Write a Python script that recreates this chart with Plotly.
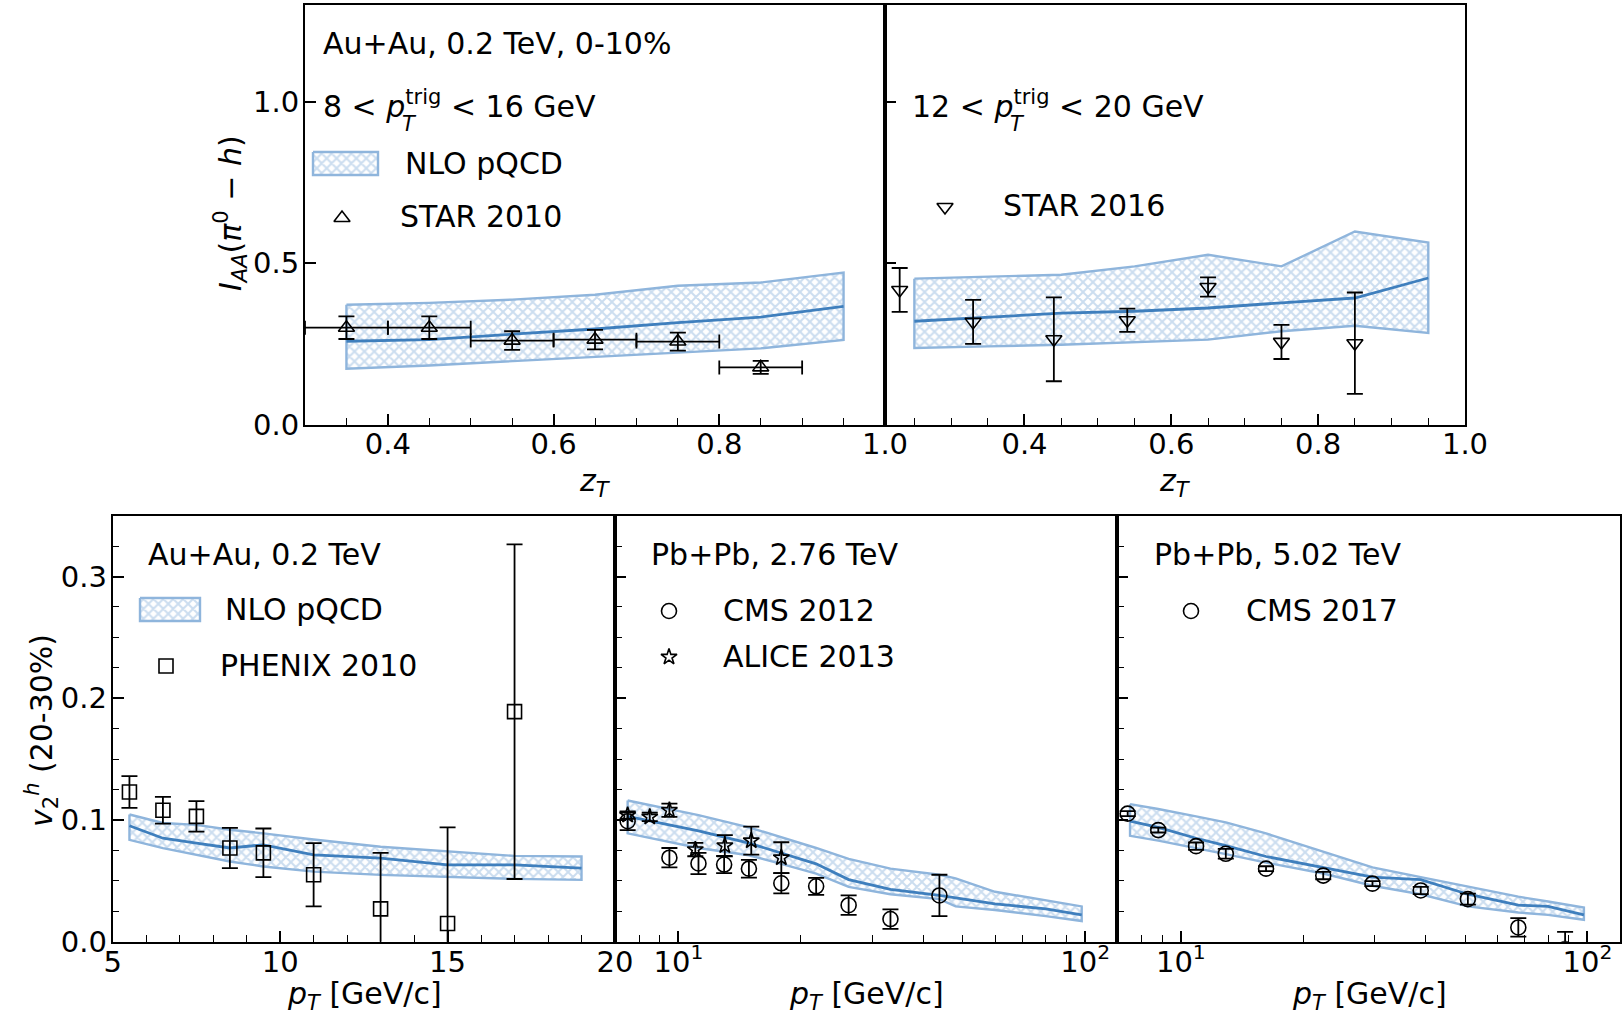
import plotly.graph_objects as go

W, H = 1623, 1016

# ---------------- data ----------------
# top-left: Au+Au 0.2 TeV 0-10%, 8<pT^trig<16 GeV
star10_z = [0.35, 0.45, 0.55, 0.65, 0.75, 0.85]
star10_iaa = [0.300, 0.300, 0.260, 0.263, 0.257, 0.177]
star10_yerr = [0.035, 0.035, 0.029, 0.030, 0.028, 0.020]
star10_xerr = [0.05, 0.05, 0.05, 0.05, 0.05, 0.05]

nlo_a_z = [0.35, 0.45, 0.55, 0.65, 0.75, 0.85, 0.95]
nlo_a_hi = [0.371, 0.377, 0.387, 0.402, 0.430, 0.440, 0.471]
nlo_a_mid = [0.258, 0.263, 0.280, 0.296, 0.316, 0.333, 0.366]
nlo_a_lo = [0.173, 0.183, 0.195, 0.210, 0.223, 0.236, 0.262]

# top-right: 12<pT^trig<20 GeV
star16_z = [0.23, 0.33, 0.44, 0.54, 0.65, 0.75, 0.85]
star16_iaa = [0.417, 0.318, 0.264, 0.323, 0.426, 0.256, 0.252]
star16_err = [0.068, 0.068, 0.130, 0.036, 0.030, 0.053, 0.157]

nlo_b_z = [0.25, 0.35, 0.45, 0.55, 0.65, 0.75, 0.85, 0.95]
nlo_b_hi = [0.452, 0.458, 0.464, 0.490, 0.526, 0.490, 0.598, 0.564]
nlo_b_mid = [0.320, 0.333, 0.345, 0.351, 0.361, 0.377, 0.392, 0.454]
nlo_b_lo = [0.237, 0.242, 0.247, 0.255, 0.263, 0.289, 0.306, 0.284]

# bottom-left: Au+Au 0.2 TeV
phenix_pt = [5.5, 6.5, 7.5, 8.5, 9.5, 11.0, 13.0, 15.0, 17.0]
phenix_v2 = [0.123, 0.108, 0.103, 0.077, 0.073, 0.055, 0.027, 0.015, 0.189]
phenix_err = [0.013, 0.011, 0.0125, 0.0165, 0.020, 0.026, 0.046, 0.079, 0.1375]

nlo_c_pt = [5.5, 6.5, 7.5, 8.5, 9.5, 11.0, 13.0, 15.0, 17.0, 19.0]
nlo_c_hi = [0.1045, 0.0975, 0.0960, 0.0920, 0.0890, 0.0840, 0.0780, 0.0740, 0.0705, 0.0700]
nlo_c_mid = [0.0953, 0.0850, 0.0810, 0.0770, 0.0796, 0.0714, 0.0686, 0.0631, 0.0631, 0.0604]
nlo_c_lo = [0.0837, 0.0769, 0.0714, 0.0659, 0.0618, 0.0576, 0.0549, 0.0535, 0.0516, 0.0508]

# bottom-middle: Pb+Pb 2.76 TeV
cms12_pt = [7.5, 9.5, 11.2, 12.95, 14.9, 17.9, 21.8, 26.2, 33.2, 43.8]
cms12_v2 = [0.099, 0.069, 0.0643, 0.0634, 0.060, 0.048, 0.0455, 0.030, 0.0186, 0.038]
cms12_err = [0.0073, 0.008, 0.0087, 0.007, 0.0073, 0.0083, 0.007, 0.008, 0.008, 0.017]

alice13_pt = [7.5, 8.5, 9.5, 11.0, 13.0, 15.1, 17.9]
alice13_v2 = [0.104, 0.1025, 0.108, 0.0757, 0.0789, 0.083, 0.069]
alice13_err = [0.003, 0.0035, 0.0055, 0.0055, 0.0087, 0.0115, 0.0127]

nlo_d_pt = [7.5, 9.5, 11.2, 14.9, 17.9, 21.8, 26.2, 33.2, 43.8, 48.0, 60.0, 80.0, 98.0]
nlo_d_hi = [0.116, 0.109, 0.104, 0.094, 0.086, 0.077, 0.068, 0.060, 0.055, 0.052, 0.041, 0.034, 0.029]
nlo_d_mid = [0.103, 0.096, 0.091, 0.081, 0.073, 0.064, 0.051, 0.043, 0.038, 0.036, 0.031, 0.027, 0.022]
nlo_d_lo = [0.089, 0.082, 0.077, 0.071, 0.064, 0.056, 0.045, 0.039, 0.035, 0.029, 0.026, 0.021, 0.017]

# bottom-right: Pb+Pb 5.02 TeV
cms17_pt = [7.4, 8.8, 10.9, 12.9, 16.2, 22.4, 29.6, 38.9, 50.8, 67.6, 88.1]
cms17_v2 = [0.1052, 0.0917, 0.0785, 0.0722, 0.0600, 0.0543, 0.0477, 0.0421, 0.0350, 0.0117, -0.006]
cms17_err = [0.002, 0.002, 0.003, 0.004, 0.002, 0.003, 0.002, 0.003, 0.0045, 0.0076, 0.014]

nlo_e_pt = [7.5, 8.8, 10.9, 12.9, 16.2, 22.4, 29.6, 38.9, 50.8, 67.6, 80.0, 98.0]
nlo_e_hi = [0.113, 0.109, 0.103, 0.098, 0.089, 0.074, 0.061, 0.053, 0.045, 0.037, 0.033, 0.028]
nlo_e_mid = [0.099, 0.094, 0.085, 0.079, 0.070, 0.061, 0.053, 0.051, 0.039, 0.030, 0.029, 0.022]
nlo_e_lo = [0.087, 0.083, 0.077, 0.072, 0.065, 0.056, 0.046, 0.039, 0.029, 0.024, 0.022, 0.018]

# ---------------- styles ----------------
FONT = "DejaVu Sans"
TXT = 30
TICK = 29
HATCH = dict(shape="x", size=7, solidity=0.5, fgcolor="#98bbe0",
             bgcolor="rgba(255,255,255,0)", fillmode="overlay")
EDGE = "#8fb5dc"
MIDC = "#3f7fbd"

fig = go.Figure()


def band(x, lo, hi, xa, ya):
    xs = list(x) + list(x)[::-1] + [x[0]]
    ys = list(hi) + list(lo)[::-1] + [hi[0]]
    fig.add_trace(go.Scatter(x=xs, y=ys, xaxis=xa, yaxis=ya, mode="lines",
                             fill="toself", fillcolor="rgba(255,255,255,0)",
                             fillpattern=HATCH, line=dict(color=EDGE, width=2.4),
                             hoverinfo="skip"))


def midline(x, y, xa, ya):
    fig.add_trace(go.Scatter(x=x, y=y, xaxis=xa, yaxis=ya, mode="lines",
                             line=dict(color=MIDC, width=2.8)))


def points(x, y, err, sym, size, xa, ya, xerr=None):
    kw = {}
    if xerr is not None:
        kw["error_x"] = dict(type="data", array=xerr, color="black", thickness=1.8, width=7)
    fig.add_trace(go.Scatter(x=x, y=y, xaxis=xa, yaxis=ya, mode="markers",
                             marker=dict(symbol=sym, size=size, color="black",
                                         line=dict(color="black", width=1.6)),
                             error_y=dict(type="data", array=err, color="black",
                                          thickness=1.8, width=8),
                             cliponaxis=True, **kw))


band(nlo_a_z, nlo_a_lo, nlo_a_hi, "x", "y")
midline(nlo_a_z, nlo_a_mid, "x", "y")
points(star10_z, star10_iaa, star10_yerr, "triangle-up-open", 14, "x", "y", xerr=star10_xerr)

band(nlo_b_z, nlo_b_lo, nlo_b_hi, "x2", "y2")
midline(nlo_b_z, nlo_b_mid, "x2", "y2")
points(star16_z, star16_iaa, star16_err, "triangle-down-open", 14, "x2", "y2")

band(nlo_c_pt, nlo_c_lo, nlo_c_hi, "x3", "y3")
midline(nlo_c_pt, nlo_c_mid, "x3", "y3")
points(phenix_pt, phenix_v2, phenix_err, "square-open", 14, "x3", "y3")

band(nlo_d_pt, nlo_d_lo, nlo_d_hi, "x4", "y4")
midline(nlo_d_pt, nlo_d_mid, "x4", "y4")
points(cms12_pt, cms12_v2, cms12_err, "circle-open", 15, "x4", "y4")
points(alice13_pt, alice13_v2, alice13_err, "star-open", 12, "x4", "y4")

band(nlo_e_pt, nlo_e_lo, nlo_e_hi, "x5", "y5")
midline(nlo_e_pt, nlo_e_mid, "x5", "y5")
points(cms17_pt, cms17_v2, cms17_err, "circle-open", 15, "x5", "y5")

# ---------------- legends (overlay pixel axis) ----------------
def legend_patch(x0, x1, y0, y1):
    fig.add_trace(go.Scatter(x=[x0, x1, x1, x0, x0], y=[y0, y0, y1, y1, y0],
                             xaxis="x6", yaxis="y6", mode="lines", fill="toself",
                             fillcolor="rgba(255,255,255,0)", fillpattern=HATCH,
                             line=dict(color=EDGE, width=2.4), hoverinfo="skip"))


def legend_marker(x, y, sym, size):
    fig.add_trace(go.Scatter(x=[x], y=[y], xaxis="x6", yaxis="y6", mode="markers",
                             marker=dict(symbol=sym, size=size, color="black",
                                         line=dict(color="black", width=1.6)),
                             hoverinfo="skip"))


legend_patch(313, 378, 152, 175)
legend_marker(342, 218, "triangle-up-open", 14)
legend_marker(945, 207, "triangle-down-open", 14)
legend_patch(140, 200, 598, 621)
legend_marker(166, 666, "square-open", 14)
legend_marker(669, 611, "circle-open", 15)
legend_marker(669, 657, "star-open", 12)
legend_marker(1191, 611, "circle-open", 15)

annotations = []


def txt(x, y, s, size=TXT, xanchor="left", angle=0):
    annotations.append(dict(x=x / W, y=1 - y / H, xref="paper", yref="paper", text=s,
                            showarrow=False, xanchor=xanchor, yanchor="middle",
                            textangle=angle,
                            font=dict(family=FONT, size=size, color="black"),
                            borderpad=0))


txt(322, 43, "Au+Au, 0.2 TeV, 0-10%")
txt(322, 104, "8 < <i>p</i><sup>trig</sup> < 16 GeV")
txt(401, 124, "<i>T</i>", size=21)
txt(404, 164, "NLO pQCD")
txt(399, 216, "STAR 2010")

txt(911, 104, "12 < <i>p</i><sup>trig</sup> < 20 GeV")
txt(1009, 124, "<i>T</i>", size=21)
txt(1002, 206, "STAR 2016")

txt(147, 554, "Au+Au, 0.2 TeV")
txt(224, 609, "NLO pQCD")
txt(219, 665, "PHENIX 2010")

txt(650, 554, "Pb+Pb, 2.76 TeV")
txt(722, 610, "CMS 2012")
txt(722, 656, "ALICE 2013")

txt(1153, 554, "Pb+Pb, 5.02 TeV")
txt(1245, 610, "CMS 2017")

txt(595, 482, "<i>z</i><sub><i>T</i></sub>", xanchor="center")
txt(1175, 482, "<i>z</i><sub><i>T</i></sub>", xanchor="center")
for cx in (364, 866, 1369):
    txt(cx, 995, "<i>p</i><sub><i>T</i></sub> [GeV/c]", xanchor="center")
txt(231, 213, "<i>I</i><sub><i>AA</i></sub>(<i>π</i><sup>0</sup> − <i>h</i>)",
    xanchor="center", angle=-90)
txt(41, 731, "<i>v</i><sub>2</sub><sup><i>h</i></sup> (20-30%)", xanchor="center", angle=-90)

# ---------------- axes ----------------
def xd(a, b):
    return [a / W, b / W]


def yd(top, bot):
    return [1 - bot / H, 1 - top / H]


common = dict(showline=True, linecolor="black", linewidth=2, mirror=True,
              ticks="inside", ticklen=11, tickwidth=1.6, tickcolor="black",
              showgrid=False, zeroline=False, automargin=False,
              tickfont=dict(family=FONT, size=TICK, color="black"))
xcommon = dict(common, ticklabelstandoff=-7)
ycommon = dict(common, ticklabelstandoff=-2)


def minor_lin(d):
    return dict(ticks="inside", ticklen=6.5, tickwidth=1.4, tickcolor="black",
                tickmode="linear", tick0=0, dtick=d, showgrid=False)


log_minor = dict(ticks="inside", ticklen=6.5, tickwidth=1.4, tickcolor="black",
                 tickmode="array", tickvals=[8, 9, 20, 30, 40, 50, 60, 70, 80, 90],
                 showgrid=False)

TOP = (5, 424.5)
BOT = (515.7, 941.7)

hidden = dict(domain=[0, 1], visible=False, showticklabels=False, ticks="",
              showline=False, showgrid=False, zeroline=False, automargin=False,
              fixedrange=True)

fig.update_layout(
    width=W, height=H, autosize=False, margin=dict(l=0, r=0, t=0, b=0, pad=0, autoexpand=False),
    paper_bgcolor="white", plot_bgcolor="rgba(0,0,0,0)", showlegend=False,
    font=dict(family=FONT, size=TICK, color="black"),
    xaxis=dict(domain=xd(305, 885), range=[0.3, 1.0], anchor="y",
               tickmode="linear", tick0=0, dtick=0.2, tickformat=".1f",
               minor=minor_lin(0.05), **xcommon),
    yaxis=dict(domain=yd(*TOP), range=[0, 1.3], anchor="x",
               tickmode="linear", tick0=0, dtick=0.5, tickformat=".1f", **ycommon),
    xaxis2=dict(domain=xd(885, 1465), range=[0.21, 1.0], anchor="y2",
                tickmode="linear", tick0=0, dtick=0.2, tickformat=".1f",
                minor=minor_lin(0.05), **xcommon),
    yaxis2=dict(domain=yd(*TOP), range=[0, 1.3], anchor="x2",
                tickmode="linear", tick0=0, dtick=0.5, showticklabels=False, **ycommon),
    xaxis3=dict(domain=xd(112.7, 615), range=[5, 20], anchor="y3",
                tickmode="linear", tick0=0, dtick=5, minor=minor_lin(1), **xcommon),
    yaxis3=dict(domain=yd(*BOT), range=[0, 0.35], anchor="x3",
                tickmode="linear", tick0=0, dtick=0.1, tickformat=".1f",
                minor=minor_lin(0.025), **ycommon),
    xaxis4=dict(domain=xd(615, 1117), type="log", range=[0.844, 2.078], anchor="y4",
                tickmode="array", tickvals=[10, 100],
                ticktext=["10<sup>1</sup>", "10<sup>2</sup>"], minor=log_minor, **xcommon),
    yaxis4=dict(domain=yd(*BOT), range=[0, 0.35], anchor="x4",
                tickmode="linear", tick0=0, dtick=0.1, showticklabels=False,
                minor=minor_lin(0.025), **ycommon),
    xaxis5=dict(domain=xd(1117, 1620), type="log", range=[0.843, 2.080], anchor="y5",
                tickmode="array", tickvals=[10, 100],
                ticktext=["10<sup>1</sup>", "10<sup>2</sup>"], minor=log_minor, **xcommon),
    yaxis5=dict(domain=yd(*BOT), range=[0, 0.35], anchor="x5",
                tickmode="linear", tick0=0, dtick=0.1, showticklabels=False,
                minor=minor_lin(0.025), **ycommon),
    xaxis6=dict(range=[0, W], anchor="y6", **hidden),
    yaxis6=dict(range=[H, 0], anchor="x6", **hidden),
    annotations=annotations,
)

POST = """
document.documentElement.style.margin='0';
document.documentElement.style.padding='0';
document.documentElement.style.overflow='hidden';
document.body.style.margin='0';
document.body.style.padding='0';
document.body.style.overflow='hidden';
var gd = document.getElementById('{plot_id}');
gd.style.position='fixed'; gd.style.left='0px'; gd.style.top='0px';
gd.style.width='1623px'; gd.style.height='1016px';
gd.style.margin='0';
"""

fig.write_html("out.html", config={"responsive": False, "displayModeBar": False},
               post_script=POST)
